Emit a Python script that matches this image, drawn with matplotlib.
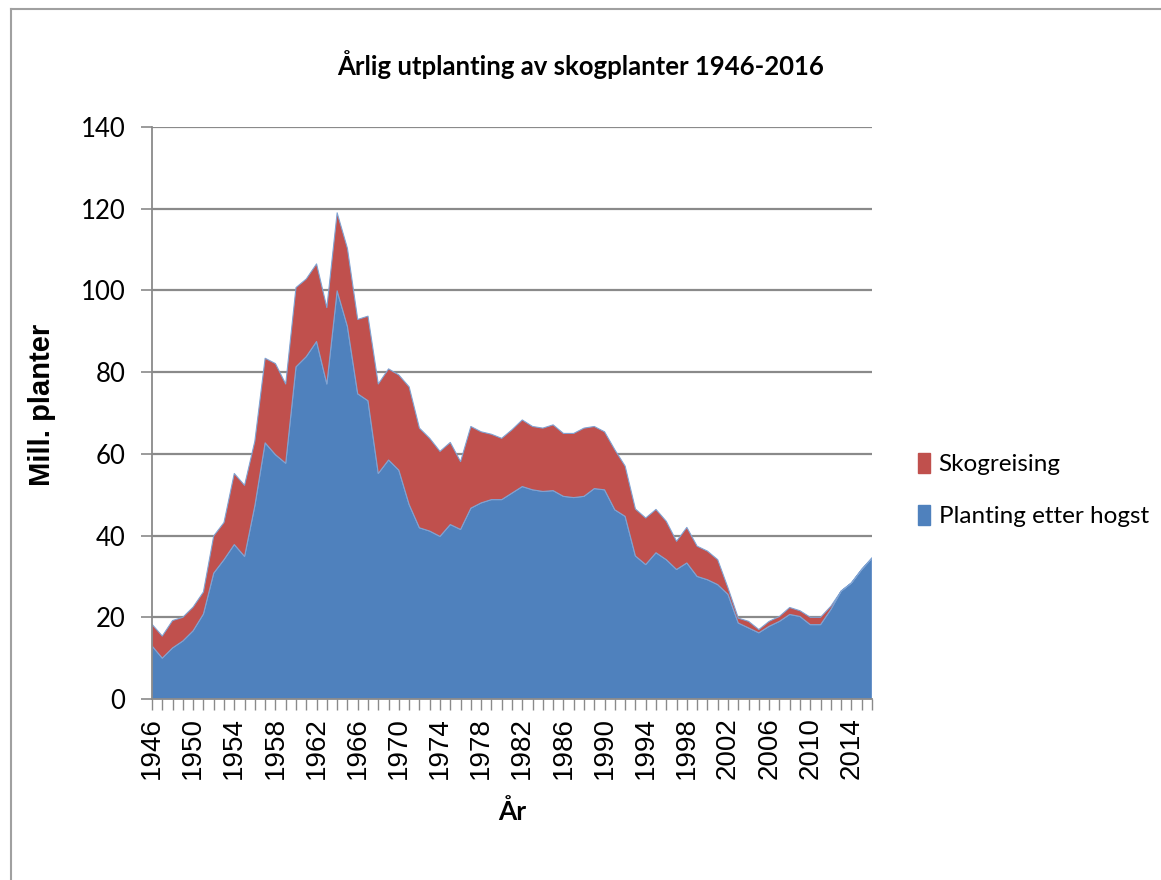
import matplotlib
matplotlib.use("Agg")
import matplotlib.pyplot as plt
from matplotlib.patches import Patch
from matplotlib.lines import Line2D

years = list(range(1946, 2017))

planting_etter_hogst = [
    13.0, 10.0, 12.5, 14.2, 16.7, 20.8, 30.8, 34.1, 37.8, 34.9,
    47.3, 62.7, 59.8, 57.7, 81.3, 83.8, 87.5, 77.1, 99.9, 91.2,
    74.7, 73.0, 55.2, 58.5, 56.0, 47.6, 41.9, 41.1, 39.8, 42.7,
    41.5, 46.7, 48.0, 48.8, 48.8, 50.4, 52.0, 51.2, 50.8, 51.0,
    49.6, 49.3, 49.6, 51.5, 51.2, 46.3, 44.7, 35.0, 32.9, 35.8,
    34.1, 31.7, 33.3, 30.0, 29.2, 28.0, 25.6, 18.6, 17.4, 16.2,
    17.8, 19.0, 20.7, 20.2, 18.2, 18.2, 21.9, 26.4, 28.4, 31.7,
    34.5,
]

skogreising = [
    5.3, 5.4, 6.7, 5.8, 5.8, 5.4, 9.1, 9.1, 17.4, 17.4,
    15.8, 20.7, 22.3, 19.4, 19.4, 19.0, 19.0, 18.7, 19.1, 19.1,
    18.2, 20.7, 21.9, 22.3, 23.3, 28.8, 24.4, 22.7, 20.8, 20.1,
    16.6, 20.0, 17.4, 16.0, 15.0, 15.5, 16.3, 15.5, 15.5, 16.1,
    15.4, 15.7, 16.7, 15.2, 14.2, 14.7, 12.3, 11.5, 11.4, 10.6,
    9.4, 6.9, 8.7, 7.4, 7.0, 6.1, 1.6, 1.2, 1.6, 0.8,
    1.2, 1.2, 1.7, 1.4, 1.8, 1.8, 0.8, 0.0, 0.0, 0.0,
    0.0,
]

title = "Årlig utplanting av skogplanter 1946-2016"
series_names = ["Planting etter hogst", "Skogreising"]
y_ticks = [0, 20, 40, 60, 80, 100, 120, 140]

BLUE = "#4F81BD"
RED = "#C0504D"
GRID = "#8A8A8A"
CAL = ["Lato", "DejaVu Sans"]
ARIAL = ["Liberation Sans", "DejaVu Sans"]

W, H = 1161, 880
X0, X1, Y0, Y1 = 152, 872, 699, 127  # plot area in pixels (left, right, bottom(0), top(140))

fig = plt.figure(figsize=(W / 100, H / 100), dpi=100)
ax = fig.add_axes([X0 / W, 1 - Y0 / H, (X1 - X0) / W, (Y0 - Y1) / H])

ax.stackplot(years, planting_etter_hogst, skogreising,
             colors=[BLUE, RED], edgecolor=["#7FA3D3", "#B04743"], linewidth=0.8, zorder=2)

ax.set_xlim(years[0], years[-1])
ax.set_ylim(0, 140)
ax.set_yticks(y_ticks)
ax.set_yticklabels([str(v) for v in y_ticks], fontfamily=CAL, fontsize=18.5)
ax.set_xticks(years)
ax.set_xticklabels([str(y) if (y - years[0]) % 4 == 0 else "" for y in years],
                   rotation=90, fontfamily=ARIAL, fontsize=20)

ax.yaxis.grid(True, color=GRID, linewidth=1.6, zorder=0)
ax.set_axisbelow(True)
for s in ["top", "right"]:
    ax.spines[s].set_visible(False)
for s in ["left", "bottom"]:
    ax.spines[s].set_color(GRID)
    ax.spines[s].set_linewidth(1.3)
ax.tick_params(axis="y", length=8, width=1.2, color=GRID, pad=11)
ax.tick_params(axis="x", length=8, width=1.0, color=GRID, pad=5)

ax.set_ylabel("Mill. planter", fontfamily=ARIAL, fontweight="bold", fontsize=21)
ax.yaxis.label.set_verticalalignment("center")
ax.yaxis.set_label_coords((42 - X0) / (X1 - X0), 0.515)

ax.set_xlabel("År", fontfamily=CAL, fontweight="bold", fontsize=19)
ax.xaxis.label.set_verticalalignment("center")
ax.xaxis.set_label_coords(0.5, -(812 - Y0) / (Y0 - Y1))

fig.text(0.5, 1 - 65 / H, title, ha="center", va="center",
         fontfamily=CAL, fontweight="bold", fontsize=18.5)

handles = [Patch(facecolor=RED, edgecolor=RED), Patch(facecolor=BLUE, edgecolor=BLUE)]
fig.legend(handles, [series_names[1], series_names[0]],
           loc="center left", bbox_to_anchor=(896 / W, 1 - 490 / H),
           frameon=False, prop={"family": CAL, "size": 17.5},
           handlelength=0.5, handleheight=0.9, handletextpad=0.35, labelspacing=1.2)

# outer frame of the chart area
fig.add_artist(Line2D([11 / W, 1], [1 - 9 / H, 1 - 9 / H], color="#A0A0A0", linewidth=1.5))
fig.add_artist(Line2D([11 / W, 11 / W], [1 - 9 / H, 0], color="#A0A0A0", linewidth=1.5))

fig.savefig("out.png", dpi=100)
